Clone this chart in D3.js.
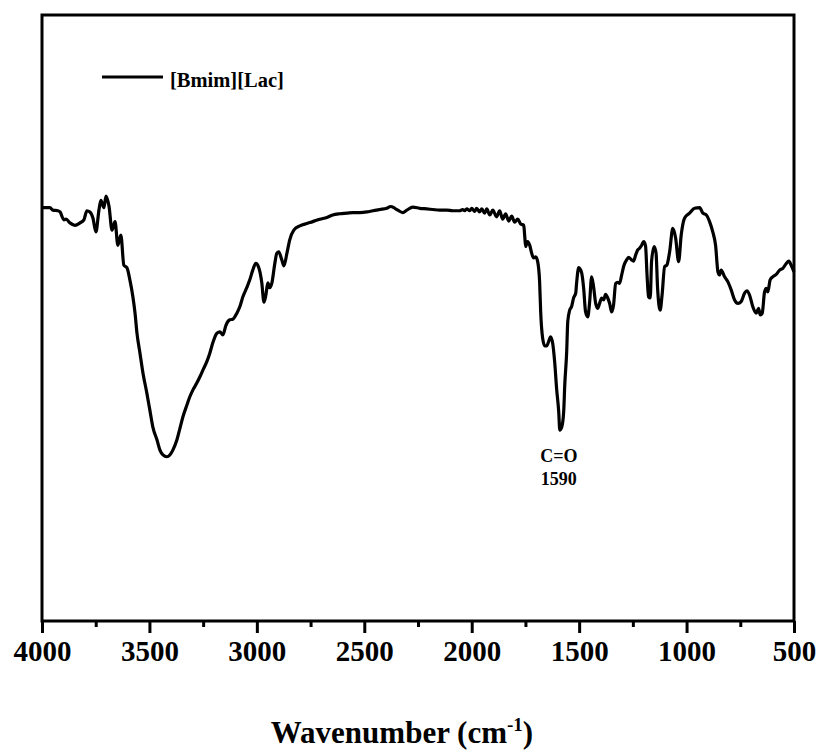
<!DOCTYPE html>
<html>
<head>
<meta charset="utf-8">
<script src="https://cdn.jsdelivr.net/npm/d3@7"></script>
<style>
  html, body { margin: 0; padding: 0; background: #fff; }
  svg { display: block; }
  text { font-family: "Liberation Serif", "Times New Roman", serif; font-weight: bold; fill: #000; }
</style>
</head>
<body>
<svg id="chart" width="822" height="752"></svg>
<script>
// FTIR spectrum of [Bmim][Lac]: wavenumber (cm-1) and transmittance (%)
const wavenumber = [
  4000, 3963, 3949, 3926, 3916, 3898, 3888, 3870, 3847, 3823, 3805, 3791, 3777, 3763, 3749, 3735,
  3726, 3712, 3702, 3688, 3674, 3660, 3647, 3633, 3619, 3605, 3591, 3577, 3567, 3558, 3544, 3530,
  3512, 3498, 3484, 3465, 3451, 3437, 3419, 3405, 3391, 3372, 3358, 3344, 3326, 3312, 3298, 3279,
  3265, 3251, 3233, 3219, 3205, 3186, 3172, 3158, 3144, 3126, 3112, 3093, 3079, 3065, 3047, 3033,
  3019, 3005, 2991, 2977, 2967, 2958, 2949, 2940, 2930, 2916, 2907, 2898, 2884, 2874, 2860, 2847,
  2828, 2800, 2767, 2740, 2707, 2674, 2647, 2614, 2581, 2553, 2521, 2488, 2460, 2428, 2395, 2377,
  2358, 2344, 2321, 2302, 2274, 2242, 2209, 2181, 2149, 2116, 2088, 2056, 2042, 2033, 2023, 2009,
  2000, 1986, 1977, 1963, 1953, 1940, 1930, 1916, 1902, 1884, 1870, 1856, 1842, 1828, 1814, 1800,
  1786, 1772, 1758, 1753, 1749, 1740, 1730, 1721, 1712, 1702, 1693, 1684, 1679, 1670, 1660, 1651,
  1642, 1633, 1623, 1614, 1605, 1595, 1590, 1581, 1572, 1567, 1558, 1553, 1544, 1535, 1526, 1516,
  1512, 1502, 1488, 1479, 1470, 1460, 1451, 1442, 1433, 1423, 1414, 1405, 1395, 1386, 1377, 1367,
  1358, 1349, 1340, 1330, 1321, 1312, 1302, 1293, 1279, 1270, 1256, 1247, 1237, 1228, 1219, 1209,
  1200, 1191, 1184, 1177, 1169, 1163, 1151, 1142, 1135, 1123, 1114, 1102, 1092, 1079, 1064, 1051,
  1037, 1025, 1009, 986, 963, 939, 924, 908, 893, 878, 865, 854, 847, 839, 823, 808,
  792, 777, 761, 746, 730, 719, 707, 692, 676, 665, 657, 648, 637, 629, 622, 611,
  599, 583, 567, 552, 536, 524, 513, 500
];
const transmittance = [
  68.2, 68.2, 67.8, 67.7, 67.5, 66.2, 66.3, 65.7, 65.3, 65.7, 66.2, 67.7, 67.5, 66.5, 64.2, 67.8,
  69.4, 68.2, 70.1, 68.4, 64.5, 65.9, 62.0, 63.7, 58.7, 58.3, 56.3, 53.5, 50.8, 47.5, 44.2, 40.9,
  37.6, 34.8, 32.0, 29.9, 28.2, 27.4, 27.1, 27.4, 28.2, 29.9, 31.8, 33.7, 35.6, 37.0, 38.1, 39.3,
  40.3, 41.4, 42.8, 44.2, 45.9, 47.5, 47.7, 47.2, 48.8, 49.7, 49.8, 50.8, 51.9, 53.5, 55.0, 56.3,
  57.9, 59.0, 58.3, 55.8, 52.6, 53.8, 55.8, 55.0, 55.8, 59.1, 60.7, 60.9, 59.6, 58.6, 60.7, 62.9,
  64.5, 65.2, 65.6, 65.9, 66.3, 66.6, 67.0, 67.2, 67.3, 67.4, 67.4, 67.5, 67.7, 67.9, 68.1, 68.4,
  68.1, 67.8, 67.4, 67.8, 68.3, 68.1, 68.0, 67.9, 67.8, 67.8, 67.7, 67.7, 67.9, 67.7, 68.0, 67.7,
  68.1, 67.6, 68.1, 67.5, 68.0, 67.3, 68.0, 67.0, 67.8, 66.7, 67.7, 66.3, 67.2, 66.0, 66.8, 65.8,
  66.3, 65.5, 65.3, 63.4, 61.8, 62.6, 62.0, 60.7, 59.9, 60.1, 59.3, 56.0, 51.0, 46.7, 45.4, 45.4,
  46.1, 46.9, 45.8, 42.8, 38.4, 34.5, 31.5, 32.0, 34.5, 38.9, 44.4, 49.4, 51.3, 51.9, 53.3, 54.1,
  55.7, 58.3, 57.4, 54.9, 51.0, 50.2, 52.7, 56.8, 55.2, 52.4, 51.6, 52.4, 53.3, 53.0, 53.9, 53.3,
  52.4, 51.0, 52.1, 55.7, 55.9, 55.7, 57.1, 58.5, 59.6, 60.0, 59.6, 59.4, 60.4, 61.2, 61.5, 62.0,
  62.6, 61.9, 57.1, 53.5, 53.3, 59.3, 61.8, 60.7, 55.0, 51.3, 53.8, 58.5, 58.7, 60.9, 64.8, 63.2,
  59.3, 63.7, 66.5, 67.3, 68.1, 68.2, 67.3, 67.0, 65.9, 64.2, 62.0, 57.6, 57.1, 57.9, 56.8, 56.0,
  54.6, 53.0, 52.4, 52.7, 54.1, 54.5, 53.8, 51.9, 50.8, 51.6, 50.5, 50.8, 54.3, 54.9, 54.3, 56.3,
  56.8, 57.2, 57.9, 58.2, 59.0, 59.4, 58.7, 57.6
];
const xTicks = [4000, 3500, 3000, 2500, 2000, 1500, 1000, 500];
const xMinorTicks = [3750, 3250, 2750, 2250, 1750, 1250, 750];
const seriesName = "[Bmim][Lac]";
const peakLabel = { wavenumber: 1590, group: "C=O" };

const spectrum = wavenumber.map((w, i) => ({ w, t: transmittance[i] }));

const svg = d3.select("#chart");
const plot = { left: 42, right: 794, top: 15, bottom: 621 };

const x = d3.scaleLinear().domain([4000, 500]).range([plot.left, plot.right]);
const y = d3.scaleLinear().domain([0, 100]).range([plot.bottom, plot.top]);

// spectrum line
const line = d3.line()
  .x(d => x(d.w))
  .y(d => y(d.t))
  .curve(d3.curveMonotoneX);

svg.append("path")
  .datum(spectrum)
  .attr("d", line)
  .attr("fill", "none")
  .attr("stroke", "#000")
  .attr("stroke-width", 3.2)
  .attr("stroke-linejoin", "round");

// frame
svg.append("rect")
  .attr("x", plot.left).attr("y", plot.top)
  .attr("width", plot.right - plot.left).attr("height", plot.bottom - plot.top)
  .attr("fill", "none").attr("stroke", "#000").attr("stroke-width", 3);

// x axis: major ticks with labels, minor ticks without
const xAxis = d3.axisBottom(x).tickValues(xTicks).tickSize(12).tickPadding(7).tickFormat(d3.format("d"));
const gx = svg.append("g").attr("transform", `translate(0,${plot.bottom})`).call(xAxis);
gx.select(".domain").remove();
gx.selectAll(".tick line").attr("stroke", "#000").attr("stroke-width", 3);
gx.selectAll(".tick text").attr("font-size", 29).attr("font-family", "Liberation Serif, serif").attr("font-weight", "bold").attr("dy", "0.71em");

const xMinor = d3.axisBottom(x).tickValues(xMinorTicks).tickSize(6).tickFormat("");
const gxm = svg.append("g").attr("transform", `translate(0,${plot.bottom})`).call(xMinor);
gxm.select(".domain").remove();
gxm.selectAll(".tick line").attr("stroke", "#000").attr("stroke-width", 3);

// axis title
const title = svg.append("text")
  .attr("x", 402).attr("y", 743)
  .attr("text-anchor", "middle")
  .attr("font-size", 31);
title.append("tspan").text("Wavenumber (cm");
title.append("tspan").text("-1").attr("font-size", 19).attr("dy", -12);
title.append("tspan").text(")").attr("dy", 12);

// legend
svg.append("line")
  .attr("x1", 102).attr("x2", 163).attr("y1", 77).attr("y2", 77)
  .attr("stroke", "#000").attr("stroke-width", 3);
svg.append("text")
  .attr("x", 170).attr("y", 87)
  .attr("font-size", 20.5)
  .text(seriesName);

// peak annotation
const peakX = x(peakLabel.wavenumber);
svg.append("text")
  .attr("x", peakX - 1).attr("y", 462)
  .attr("text-anchor", "middle").attr("font-size", 18)
  .text(peakLabel.group);
svg.append("text")
  .attr("x", peakX - 1).attr("y", 485)
  .attr("text-anchor", "middle").attr("font-size", 18)
  .text(peakLabel.wavenumber);
</script>
</body>
</html>
